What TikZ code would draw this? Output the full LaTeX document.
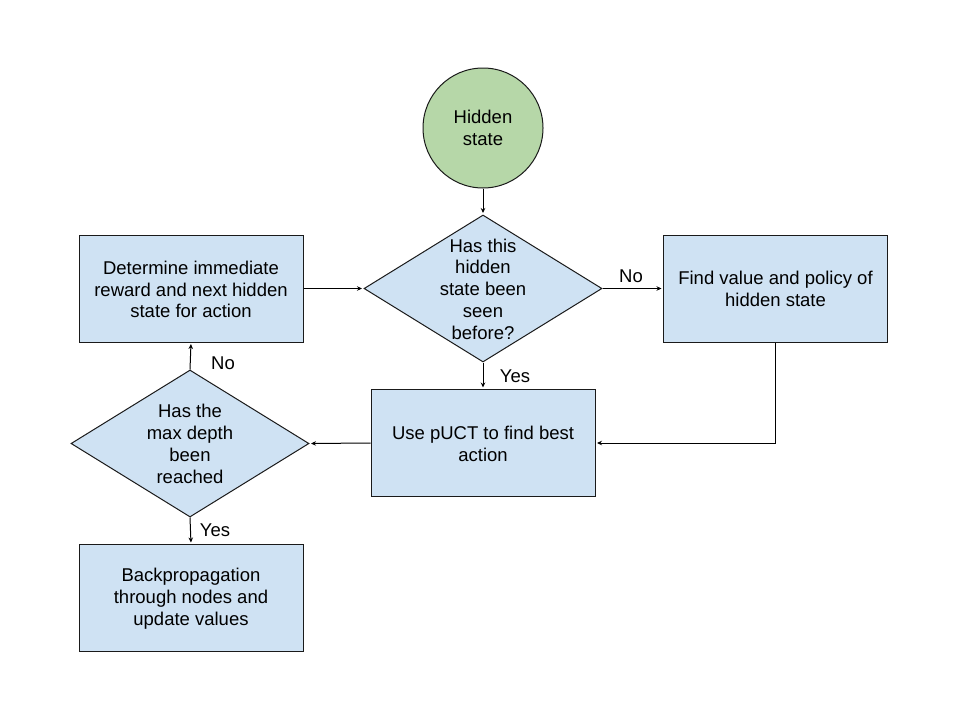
\documentclass[tikz,border=0pt]{standalone}
\usepackage{fontspec}
\setmainfont{Liberation Sans}
\usetikzlibrary{shapes.geometric,arrows.meta}
\definecolor{boxblue}{HTML}{CFE2F3}
\definecolor{circgreen}{HTML}{B6D7A8}
\definecolor{edgecol}{HTML}{1A1A1A}
\begin{document}
\begin{tikzpicture}[x=1pt,y=-1pt,
  every node/.style={font=\fontsize{18.5}{21.8}\selectfont, align=center, inner sep=0pt},
  procbox/.style={draw=edgecol, fill=boxblue, line width=1pt, minimum width=224pt, minimum height=107pt},
  decbox/.style={draw=edgecol, fill=boxblue, line width=1pt, diamond, minimum width=238pt, minimum height=147pt},
  startc/.style={draw=edgecol, fill=circgreen, line width=1pt, circle, minimum size=120pt},
  conn/.style={draw=black, line width=1pt, -{Stealth[length=5pt,width=4.5pt]}, shorten >=1.5pt},
  lbl/.style={font=\fontsize{18.5}{21}\selectfont}
]
\useasboundingbox (0,0) rectangle (960,720);
\fill[white] (0,0) rectangle (960,720);

\node[startc] (hs) at (483,128) {};
\node (hst) at (483,128) {Hidden\\state};

\node[decbox] (d1) at (483,288.5) {};
\node (d1t) at (483,289) {Has this\\hidden\\state been\\seen\\before?};

\node[procbox] (det) at (191,288.5) {};
\node (dett) at (191,289.5) {Determine immediate\\reward and next hidden\\state for action};

\node[procbox] (find) at (775.5,288.5) {};
\node (findt) at (775.5,289) {Find value and policy of\\hidden state};

\node[procbox] (puct) at (483,443) {};
\node (puctt) at (483,444) {Use pUCT to find best\\action};

\node[decbox] (d2) at (190,443.5) {};
\node (d2t) at (190,444) {Has the\\max depth\\been\\reached};

\node[procbox] (bp) at (191,598) {};
\node (bpt) at (191,599) {Backpropagation\\through nodes and\\update values};

\draw[conn] (hs.south) -- (d1.north);
\draw[conn] (det.east) -- (d1.west);
\draw[conn] (d1.east) -- (find.west);
\draw[conn] (d1.south) -- (puct.north);
\draw[conn] (find.south) |- (puct.east);
\draw[conn] (puct.west) -- (d2.east);
\draw[conn] (d2.north) -- (det.south);
\draw[conn] (d2.south) -- (bp.north);

\node[lbl] (no1) at (631,276) {No};
\node[lbl] (yes1) at (515,376) {Yes};
\node[lbl] (no2) at (223,363) {No};
\node[lbl] (yes2) at (215,530) {Yes};
\end{tikzpicture}
\end{document}
